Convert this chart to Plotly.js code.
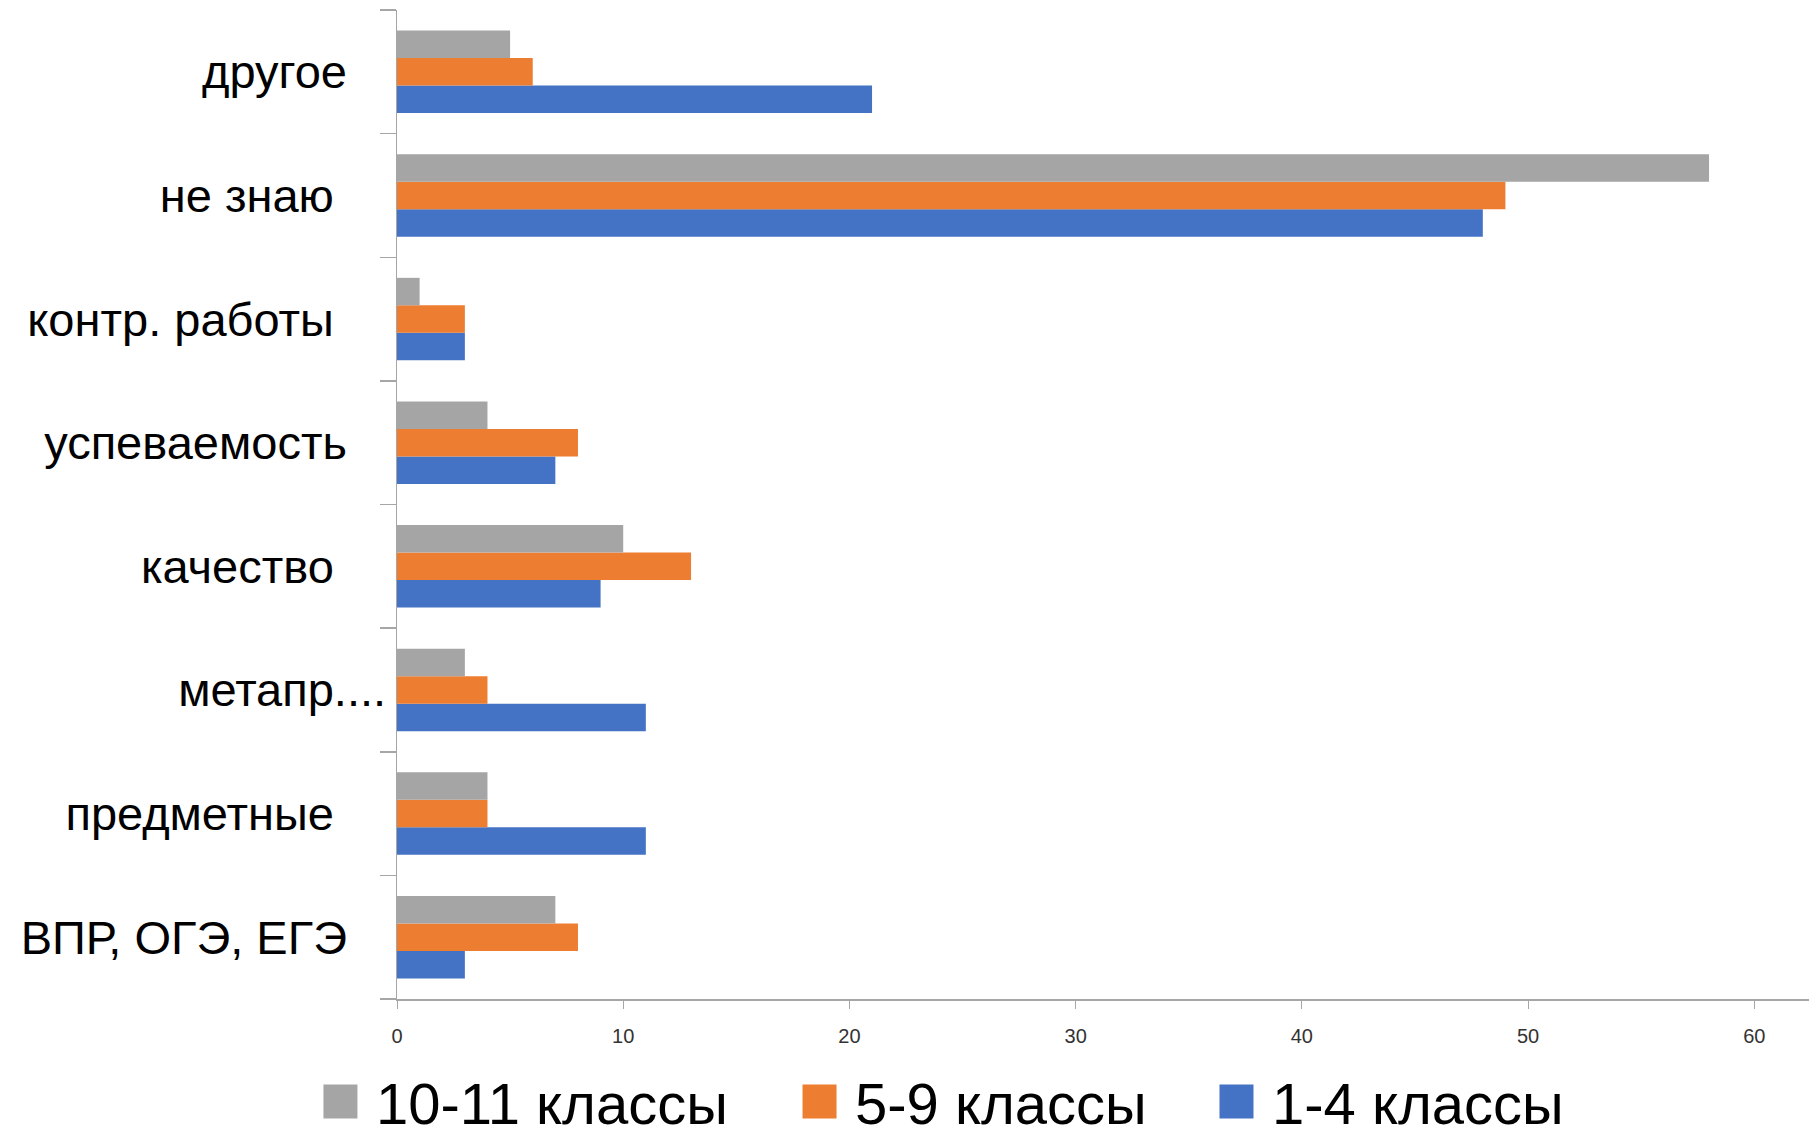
<!DOCTYPE html>
<html><head><meta charset="utf-8">
<script src="https://cdn.plot.ly/plotly-3.0.1.min.js"></script>
<style>html,body{margin:0;padding:0;background:#fff}#chart{width:1809px;height:1136px}</style>
</head><body><div id="chart"></div>
<script>
// categories listed bottom → top
const categories = ["ВПР, ОГЭ, ЕГЭ", "предметные", "метапр....", "качество", "успеваемость", "контр. работы", "не знаю", "другое"];
const tickLabels = ["ВПР, ОГЭ, ЕГЭ\u00a0\u00a0\u00a0", "предметные\u00a0\u00a0\u00a0\u00a0", "метапр....", "качество\u00a0\u00a0\u00a0\u00a0", "успеваемость\u00a0\u00a0\u00a0", "контр. работы\u00a0\u00a0\u00a0\u00a0", "не знаю\u00a0\u00a0\u00a0\u00a0", "другое\u00a0\u00a0\u00a0"];
const seriesNames = ["1-4 классы", "5-9 классы", "10-11 классы"];
const grade1to4 = [3, 11, 11, 9, 7, 3, 48, 21];
const grade5to9 = [8, 4, 4, 13, 8, 3, 49, 6];
const grade10to11 = [7, 4, 3, 10, 4, 1, 58, 5];
const xTicks = [0, 10, 20, 30, 40, 50, 60];

const colors = ["#4472C4", "#ED7D31", "#A5A5A5"];
const values = [grade1to4, grade5to9, grade10to11];
const legendIds = ["legend3", "legend2", "legend"];
const legendX = [0.5694, 0.2741, -0.0652];

const traces = values.map((v, i) => ({
  type: "bar",
  orientation: "h",
  name: seriesNames[i],
  legend: legendIds[i],
  x: v,
  y: categories,
  marker: {color: colors[i], line: {width: 0}},
  hoverinfo: "x+name"
}));

function legendBox(x) {
  return {
    orientation: "h",
    xref: "paper",
    yref: "container",
    x: x,
    xanchor: "left",
    y: 0.030,
    yanchor: "middle",
    itemwidth: 61,
    font: {size: 58, color: "#000"},
    bgcolor: "rgba(0,0,0,0)"
  };
}

const layout = {
  width: 1809,
  height: 1136,
  margin: {l: 397, r: 0, t: 10, b: 137, pad: 0},
  paper_bgcolor: "#fff",
  plot_bgcolor: "#fff",
  barmode: "group",
  bargap: 0.333,
  bargroupgap: 0,
  font: {family: "Liberation Sans, Arial, sans-serif", color: "#000"},
  xaxis: {
    range: [0, 62.42],
    tickmode: "array",
    tickvals: xTicks,
    ticktext: xTicks.map(String),
    showgrid: false,
    zeroline: false,
    showline: true,
    linecolor: "#a6a6a6",
    linewidth: 1.5,
    ticks: "outside",
    ticklen: 8,
    tickcolor: "#a6a6a6",
    tickwidth: 1,
    ticklabelstandoff: 10,
    tickfont: {size: 20, color: "#333"}
  },
  yaxis: {
    type: "category",
    categoryorder: "array",
    categoryarray: categories,
    tickmode: "array",
    tickvals: categories,
    ticktext: tickLabels,
    tickson: "boundaries",
    showgrid: false,
    zeroline: false,
    showline: true,
    linecolor: "#a6a6a6",
    linewidth: 1.5,
    ticks: "outside",
    ticklen: 16,
    tickcolor: "#a6a6a6",
    tickwidth: 1.5,
    ticklabelstandoff: 0,
    tickfont: {size: 47, color: "#000"}
  },
  showlegend: true,
  legend: legendBox(legendX[2]),
  legend2: legendBox(legendX[1]),
  legend3: legendBox(legendX[0])
};

Plotly.newPlot("chart", traces, layout, {displayModeBar: false, staticPlot: true}).then(() => {
  document.querySelectorAll(".legendpoints path").forEach(p => p.setAttribute("d", "M17,17H-17V-17H17Z"));
});
</script>
</body></html>
